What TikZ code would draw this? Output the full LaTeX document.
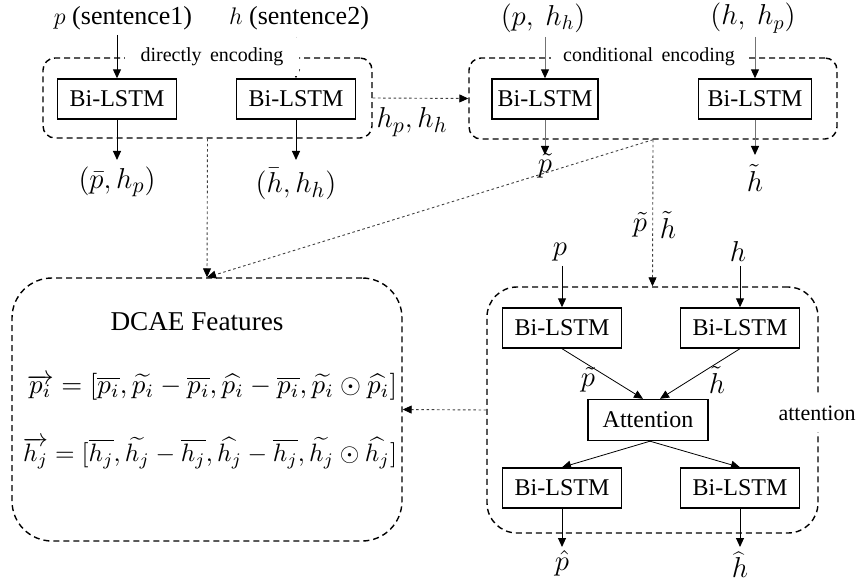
\documentclass[tikz,border=0pt]{standalone}
\usepackage{fontspec}
\setmainfont{Liberation Serif}
\newfontfamily\tms{Liberation Serif}
\usepackage{graphicx}
\usetikzlibrary{arrows.meta}
\begin{document}
\begin{tikzpicture}[x=0.5pt,y=-0.5pt,
 bl/.style={draw, line width=0.7pt, minimum width=59.5pt, minimum height=20pt, inner sep=0pt, font=\tms\fontsize{12}{14}\selectfont},
 grp/.style={draw, dash pattern=on 3pt off 2pt, line width=0.7pt, rounded corners=6pt, inner sep=0pt},
 arr/.style={-{Triangle[width=4pt,length=4.5pt]}, line width=0.5pt},
 garr/.style={arr, draw=black!55, -{Triangle[width=4pt,length=4.5pt,color=black]}},
 dotarrow/.style={-{Triangle[width=4pt,length=4.5pt,color=black]}, draw=black!75, line width=0.45pt, dash pattern=on 1.3pt off 1.3pt},
 lab/.style={font=\tms\fontsize{10}{12}\selectfont, fill=white, inner xsep=7pt, inner ysep=3pt},
 tx/.style={font=\tms\fontsize{13}{15}\selectfont, inner sep=0pt},
 mt/.style={font=\tms\fontsize{14}{16}\selectfont, inner sep=0pt}
]
\useasboundingbox (0,0) rectangle (857,588);

% ---------- group boxes ----------
\node[grp, minimum width=164.5pt, minimum height=40pt] (g1) at (207.5,98) {};
\node[grp, minimum width=184pt, minimum height=40.5pt] (g2) at (653,98.5) {};
\node[grp, rounded corners=20pt, minimum width=195pt, minimum height=131.5pt] (dc) at (207,409.5) {};
\node[grp, rounded corners=15pt, minimum width=165.5pt, minimum height=123pt] (ag) at (652.5,410) {};

% ---------- directly encoding ----------
\node[tx] (t1) at (123,18) {$p$ (sentence1)};
\node[tx] (t2) at (299,18) {$h$ (sentence2)};
\coordinate (a1) at (117,35);
\coordinate (a2) at (296,37);
\node[bl] (b1) at (117,99) {Bi-LSTM};
\node[bl] (b2) at (296,99) {Bi-LSTM};
\draw[arr] (a1) -- (b1.north);
\draw[arr, draw=black!15, -{Triangle[width=4pt,length=4.5pt,color=black]}] (a2) -- (b2.north);
\node[lab, inner xsep=8pt, inner ysep=5pt] (l1) at (212,57) {directly\, encoding};
\coordinate (o1) at (117,160);
\coordinate (o2) at (296,160);
\draw[arr] (b1.south) -- (o1);
\draw[arr] (b2.south) -- (o2);
\node[mt, font=\fontsize{15}{17}\selectfont] (r1) at (117,182) {$(\bar{p}, h_p)$};
\node[mt, font=\fontsize{15}{17}\selectfont] (r2) at (296,184) {$(\bar{h}, h_h)$};

% ---------- conditional encoding ----------
\node[mt] (t3) at (543,18) {$(p,\ h_h)$};
\node[mt] (t4) at (753,18) {$(h,\ h_p)$};
\coordinate (a3) at (545,37);
\coordinate (a4) at (755,37);
\node[bl, minimum width=53pt] (b3) at (545,99) {Bi-LSTM};
\node[bl, minimum width=56.5pt] (b4) at (755,99) {Bi-LSTM};
\draw[garr] (a3) -- (b3.north);
\draw[garr] (a4) -- (b4.north);
\node[lab, inner xsep=6pt, inner ysep=5pt] (l2) at (649,57) {conditional\, encoding};
\coordinate (o3) at (545,155);
\coordinate (o4) at (755,155);
\draw[garr] (b3.south) -- (o3);
\draw[garr] (b4.south) -- (o4);

% ---------- connectors between groups ----------
\draw[dotarrow] (g1.east) -- (g2.west);
\node[mt, font=\fontsize{15}{17}\selectfont] (hh) at (412,122) {$h_p, h_h$};
\draw[dotarrow] (g1.south) -- (dc.north);
\draw[dotarrow] (g2.south) -- (dc.north);
\draw[dotarrow] (g2.south) -- (ag.north);
\draw[dotarrow] (ag.west) -- (dc.east);
\node[mt] (r3) at (545,166) {$\tilde{p}$};
\node[mt] (r4) at (755,178) {$\tilde{h}$};
\node[mt] (m1) at (640,225) {$\tilde{p}$};
\node[mt] (m2) at (668,225) {$\tilde{h}$};

% ---------- attention group ----------
\node[lab, inner xsep=1pt, inner ysep=6pt, font=\tms\fontsize{11}{13}\selectfont] (l3) at (817,413) {attention};
\node[mt] (t5) at (560,252) {$p$};
\node[mt] (t6) at (738,252) {$h$};
\coordinate (a5) at (562,266);
\coordinate (a6) at (740,266);
\node[bl] (b5) at (562,328) {Bi-LSTM};
\node[bl] (b6) at (740,328) {Bi-LSTM};
\draw[arr] (a5) -- (b5.north);
\draw[arr] (a6) -- (b6.north);
\node[bl, minimum width=60pt, minimum height=20.5pt] (at) at (648,420) {Attention};
\draw[arr, line width=0.4pt] (b5.south) -- ([xshift=-2.5pt]at.north);
\draw[arr, line width=0.4pt] (b6.south) -- ([xshift=6pt]at.north);
\node[mt] (m3) at (588,380) {$\tilde{p}$};
\node[mt] (m4) at (717,380) {$\tilde{h}$};
\node[bl] (b7) at (562,488) {Bi-LSTM};
\node[bl] (b8) at (740,488) {Bi-LSTM};
\draw[arr, line width=0.4pt] ([xshift=1pt]at.south) -- (b7.north);
\draw[arr, line width=0.4pt] ([xshift=1pt]at.south) -- (b8.north);
\coordinate (o7) at (562,547);
\coordinate (o8) at (740,547);
\draw[arr] (b7.south) -- (o7);
\draw[arr] (b8.south) -- (o8);
\node[mt] (r7) at (562,563) {$\hat{p}$};
\node[mt] (r8) at (740,565) {$\widehat{h}$};

% ---------- DCAE features ----------
\node[tx, font=\tms\fontsize{13.6}{16}\selectfont] (df) at (197,322) {DCAE Features};
\node[inner sep=0pt] (e1) at (212,387) {\resizebox{185pt}{!}{$\overrightarrow{p_i} = [\overline{p_i}, \widetilde{p_i} - \overline{p_i}, \widehat{p_i} - \overline{p_i}, \widetilde{p_i} \odot \widehat{p_i}]$}};
\node[inner sep=0pt] (e2) at (210,453) {\resizebox{187pt}{!}{$\overrightarrow{h_j} = [\overline{h_j}, \widetilde{h_j} - \overline{h_j}, \widehat{h_j} - \overline{h_j}, \widetilde{h_j} \odot \widehat{h_j}]$}};
\end{tikzpicture}
\end{document}
